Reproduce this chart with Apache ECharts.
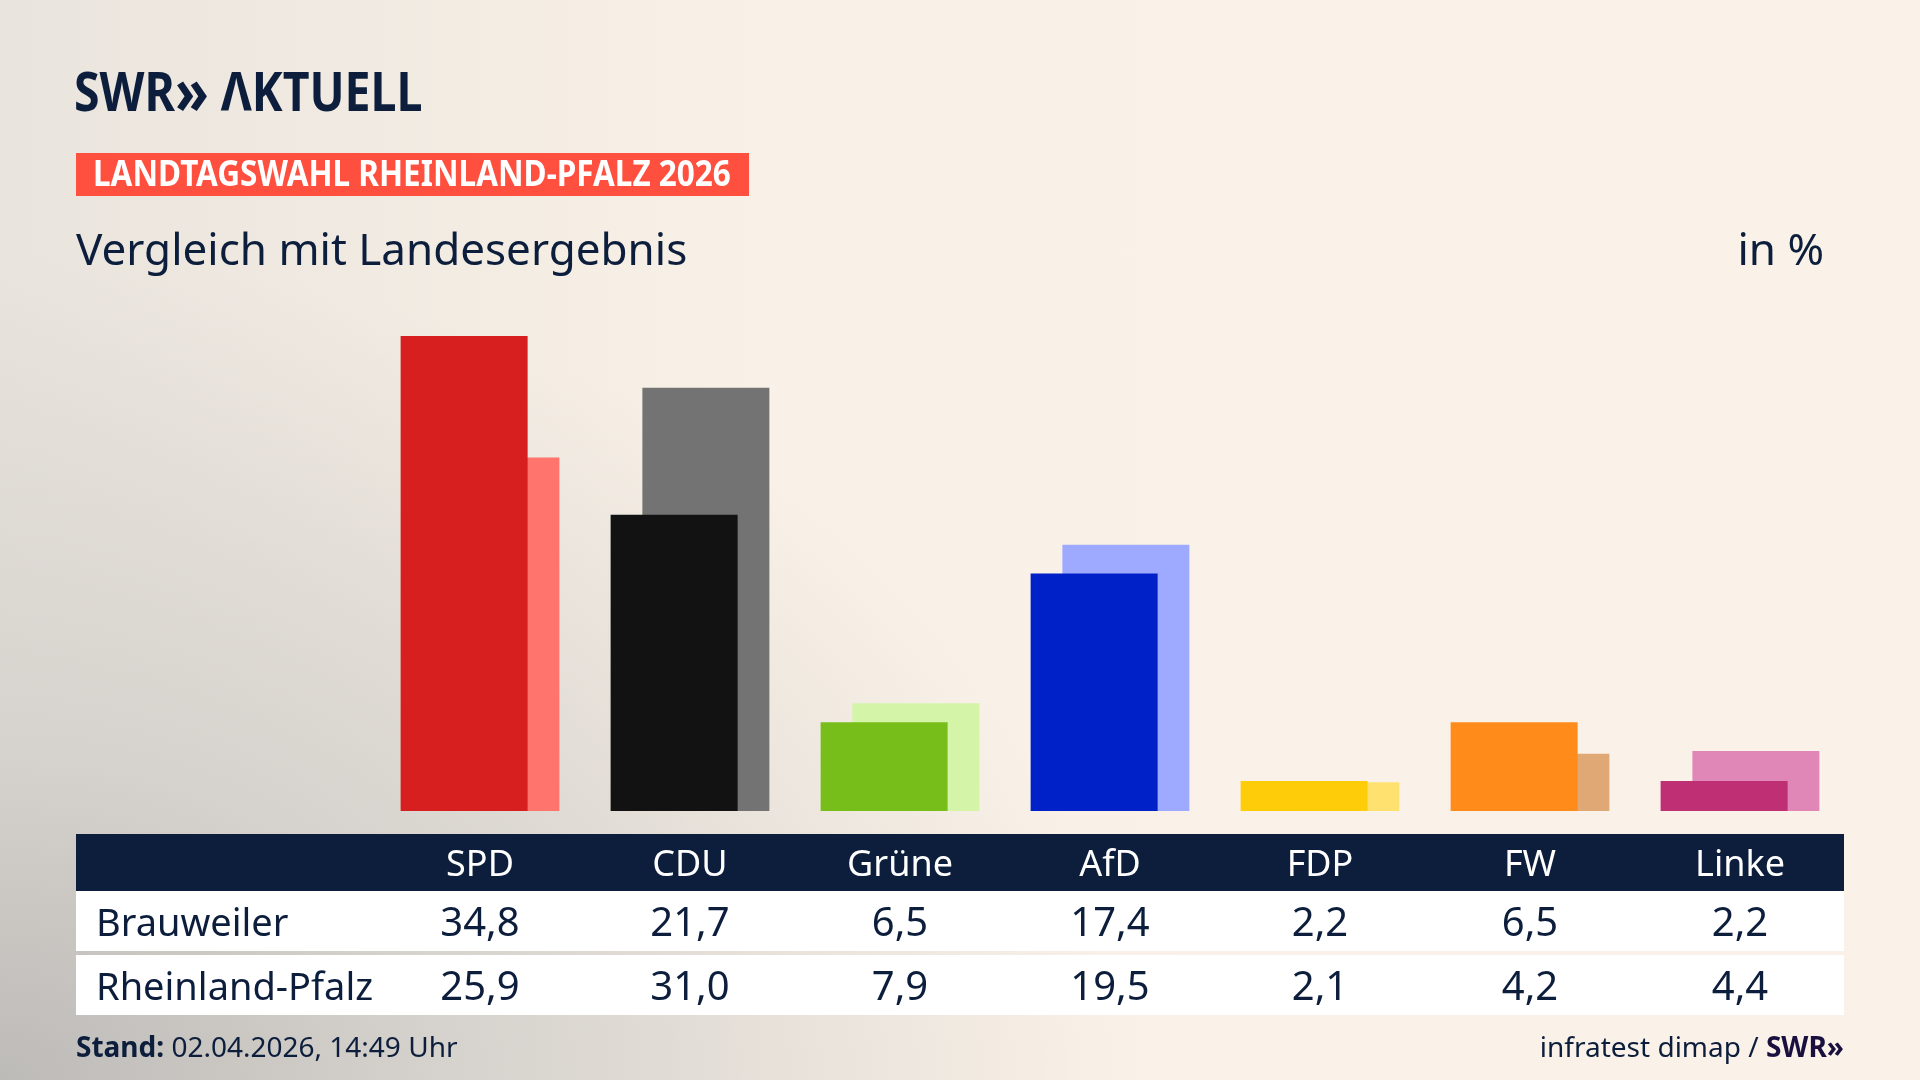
<!DOCTYPE html>
<html>
<head>
    <meta charset="utf-8">
    <title>Vergleich mit Landesergebnis</title>
    <script src="https://cdn.jsdelivr.net/npm/echarts@6/dist/echarts.min.js"></script>
    <style type="text/css">
        html, body {
            margin: 0;
            padding: 0;
        }

        #chart {
            width: 1920px;
            height: 1080px;
            background:
                radial-gradient(ellipse 1500px 1100px at 0% 100%, #bdbbb8 0%, #d6d2cd 30%, rgba(249,241,231,0) 75%),
                linear-gradient(90deg, #e9e4dd 0%, #f9f1e7 40%, #faf2e8 100%);
        }
    </style>
</head>
<body>
    <div id="chart"></div>
    <script>
        // Parteien und Werte
        var parties = ['SPD', 'CDU', 'Grüne', 'AfD', 'FDP', 'FW', 'Linke'];
        var brauweiler = [34.8, 21.7, 6.5, 17.4, 2.2, 6.5, 2.2];
        var rlp = [25.9, 31.0, 7.9, 19.5, 2.1, 4.2, 4.4];
        var rowNames = ['Brauweiler', 'Rheinland-Pfalz'];
        var darkColors = ['#d81f1f', '#121212', '#78be1a', '#0020c8', '#ffcc0a', '#ff8c1a', '#be2f73'];
        var lightColors = ['#ff746c', '#737373', '#d4f5a8', '#9eaaff', '#ffe170', '#e0a874', '#e087b7'];

        var navy = '#0c1e3c';
        var font = '"Noto Sans", "Open Sans", sans-serif';

        function fmt(v) {
            return v.toFixed(1).replace('.', ',');
        }

        function tableAxis(margin, color, size, formatter) {
            return {
                type: 'category',
                data: parties,
                position: 'bottom',
                offset: 0,
                axisLine: { show: false },
                axisTick: { show: false },
                splitLine: { show: false },
                axisLabel: {
                    margin: margin,
                    color: color,
                    fontSize: size,
                    fontFamily: font,
                    verticalAlign: 'middle',
                    interval: 0,
                    formatter: formatter
                }
            };
        }

        var chart = echarts.init(document.getElementById('chart'));
        var option = {
            backgroundColor: 'transparent',
            animation: false,
            grid: { left: 375, right: 75, top: 265, bottom: 269 },
            xAxis: [
                tableAxis(55, '#ffffff', 36, function (v) { return v; }),
                tableAxis(114, navy, 40, function (v, i) { return fmt(brauweiler[i]); }),
                tableAxis(178, navy, 40, function (v, i) { return fmt(rlp[i]); })
            ],
            yAxis: { type: 'value', min: 0, max: 40, show: false },
            graphic: [
                // Kopfzeile und Zeilen der Tabelle
                { type: 'rect', z: -1, shape: { x: 76, y: 834, width: 1768, height: 57 }, style: { fill: navy } },
                { type: 'rect', z: -1, shape: { x: 76, y: 891, width: 1768, height: 60 }, style: { fill: '#ffffff' } },
                { type: 'rect', z: -1, shape: { x: 76, y: 955, width: 1768, height: 60 }, style: { fill: '#ffffff' } },
                { type: 'text', x: 96, y: 925, style: { text: rowNames[0], fill: navy, fontSize: 38, fontFamily: font, verticalAlign: 'middle' } },
                { type: 'text', x: 96, y: 989, style: { text: rowNames[1], fill: navy, fontSize: 38, fontFamily: font, verticalAlign: 'middle' } },
                // Logo
                {
                    type: 'text', x: 74, y: 96, scaleX: 0.86,
                    style: {
                        text: 'SWR{c|»} ΛKTUELL', fill: navy, fontSize: 54, fontWeight: 'bold', fontFamily: font, verticalAlign: 'middle',
                        rich: { c: { fontSize: 64, fontWeight: 'bold', fontFamily: font, fill: navy } }
                    }
                },
                // Roter Balken
                { type: 'rect', shape: { x: 76, y: 153, width: 673, height: 43 }, style: { fill: '#ff4f3e' } },
                { type: 'text', x: 93, y: 176, scaleX: 0.9, style: { text: 'LANDTAGSWAHL RHEINLAND-PFALZ 2026', fill: '#ffffff', fontSize: 35, fontWeight: 'bold', fontFamily: font, verticalAlign: 'middle' } },
                // Titel
                { type: 'text', x: 76, y: 252, style: { text: 'Vergleich mit Landesergebnis', fill: navy, fontSize: 44, fontFamily: font, verticalAlign: 'middle' } },
                { type: 'text', x: 1824, y: 252, style: { text: 'in %', fill: navy, fontSize: 44, fontFamily: font, align: 'right', verticalAlign: 'middle' } },
                // Fusszeile
                {
                    type: 'text', x: 76, y: 1049,
                    style: {
                        text: '{b|Stand:} 02.04.2026, 14:49 Uhr', fill: navy, fontSize: 28, fontFamily: font, verticalAlign: 'middle',
                        rich: { b: { fontWeight: 'bold', fontSize: 28, fontFamily: font, fill: navy } }
                    }
                },
                {
                    type: 'text', x: 1844, y: 1049,
                    style: {
                        text: 'infratest dimap / {b|SWR»}', fill: navy, fontSize: 28, fontFamily: font, align: 'right', verticalAlign: 'middle',
                        rich: { b: { fontWeight: 'bold', fontSize: 28, fontFamily: font, fill: '#1a1040' } }
                    }
                }
            ],
            series: [
                {
                    name: 'Brauweiler',
                    type: 'bar',
                    z: 3,
                    barWidth: 127,
                    barGap: '-75%',
                    data: brauweiler.map(function (v, i) {
                        return { value: v, itemStyle: { color: darkColors[i] } };
                    })
                },
                {
                    name: 'Rheinland-Pfalz',
                    type: 'bar',
                    z: 2,
                    barWidth: 127,
                    barGap: '-75%',
                    data: rlp.map(function (v, i) {
                        return { value: v, itemStyle: { color: lightColors[i] } };
                    })
                }
            ]
        };
        chart.setOption(option);
    </script>
</body>
</html>
